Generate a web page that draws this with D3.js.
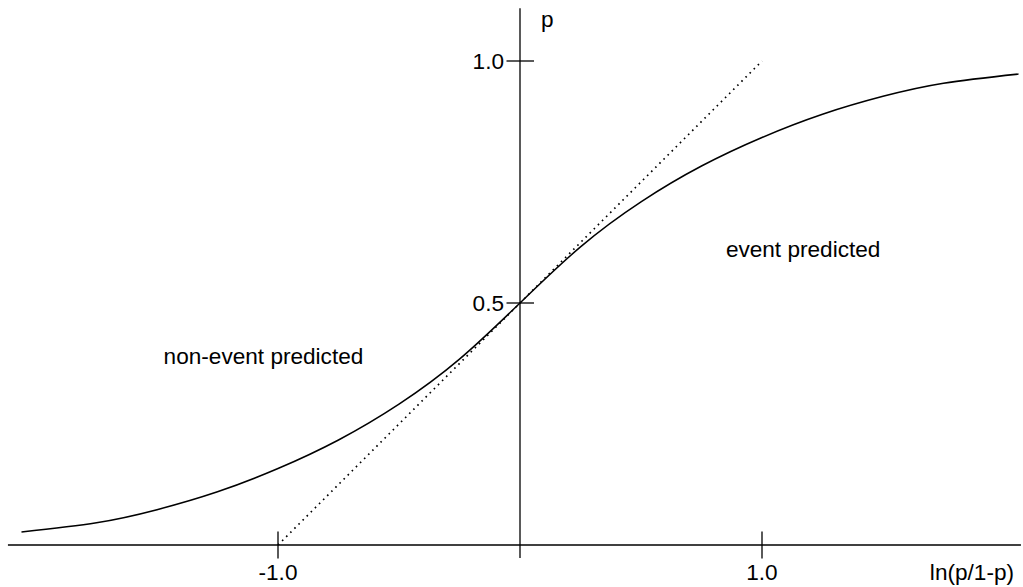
<!DOCTYPE html>
<html>
<head>
<meta charset="utf-8">
<script src="https://cdn.jsdelivr.net/npm/d3@7"></script>
<style>
  body { margin: 0; background: #fff; }
  svg text { font-family: "Liberation Sans", Arial, sans-serif; font-size: 22.6px; fill: #000; }
  .axis { stroke: #000; stroke-width: 1.3; }
  .curve { fill: none; stroke: #000; stroke-width: 1.5; }
  .tangent { fill: none; stroke: #000; stroke-width: 1.7; stroke-dasharray: 1.6,4.2; }
</style>
</head>
<body>
<div class="chart"></div>
<script>
const WIDTH = 1023;
const HEIGHT = 587;

// logit values and probabilities
var logitValues = [-2.06, -1.75, -1.5, -1.25, -1.0, -0.75, -0.5, -0.25, 0, 0.25, 0.5, 0.75, 1.0, 1.25, 1.5, 1.75, 2.06];
var probValues  = [0.027, 0.046, 0.073, 0.110, 0.158, 0.217, 0.291, 0.384, 0.5, 0.616, 0.709, 0.783, 0.842, 0.890, 0.927, 0.954, 0.973];

// dotted tangent at the middle
var tangentX = [-1.0, 1.0];
var tangentP = [0.0, 1.0];

var xTicks = [-1.0, 1.0];
var xTickLabels = ["-1.0", "1.0"];
var yTicks = [0.5, 1.0];
var yTickLabels = ["0.5", "1.0"];

// axis extents in data units
var xAxisRange = [-2.116, 2.07];
var yAxisRange = [-0.027, 1.109];

var xTitle = "ln(p/1-p)";
var yTitle = "p";

var regionLabels = [
  { text: "non-event predicted", x: -1.06, p: 0.374 },
  { text: "event predicted", x: 1.17, p: 0.595 }
];

var loadChart = function() {
  var svg = d3.select(".chart").append("svg")
    .attr("width", WIDTH)
    .attr("height", HEIGHT);

  var xScale = d3.scaleLinear().domain([-1, 1]).range([278, 762]);
  var yScale = d3.scaleLinear().domain([0, 1]).range([545, 61]);

  // axes
  svg.append("line").classed("axis", true)
    .attr("x1", xScale(xAxisRange[0])).attr("x2", xScale(xAxisRange[1]))
    .attr("y1", yScale(0)).attr("y2", yScale(0));
  svg.append("line").classed("axis", true)
    .attr("x1", xScale(0)).attr("x2", xScale(0))
    .attr("y1", yScale(yAxisRange[0])).attr("y2", yScale(yAxisRange[1]));

  // x ticks cross the axis
  svg.selectAll(".xtick").data(xTicks).enter()
    .append("line").classed("axis", true)
    .attr("x1", function(d) { return xScale(d); })
    .attr("x2", function(d) { return xScale(d); })
    .attr("y1", yScale(0) - 13.5)
    .attr("y2", yScale(0) + 13.5);
  svg.selectAll(".xlabel").data(xTicks).enter()
    .append("text")
    .attr("x", function(d) { return xScale(d); })
    .attr("y", yScale(0) + 35)
    .attr("text-anchor", "middle")
    .text(function(d, i) { return xTickLabels[i]; });

  // y ticks
  svg.selectAll(".ytick").data(yTicks).enter()
    .append("line").classed("axis", true)
    .attr("x1", xScale(0) - 13.5)
    .attr("x2", xScale(0) + 14)
    .attr("y1", function(d) { return yScale(d); })
    .attr("y2", function(d) { return yScale(d); });
  svg.selectAll(".ylabel").data(yTicks).enter()
    .append("text")
    .attr("x", xScale(0) - 16)
    .attr("y", function(d) { return yScale(d) + 7.5; })
    .attr("text-anchor", "end")
    .text(function(d, i) { return yTickLabels[i]; });

  // titles
  svg.append("text")
    .attr("x", 1014)
    .attr("y", yScale(0) + 35)
    .attr("text-anchor", "end")
    .text(xTitle);
  svg.append("text")
    .attr("x", xScale(0) + 21)
    .attr("y", 27)
    .text(yTitle);

  // tangent line
  var tangent = d3.line()
    .x(function(d) { return xScale(d); })
    .y(function(d, i) { return yScale(tangentP[i]); });
  svg.append("path").classed("tangent", true)
    .attr("d", tangent(tangentX));

  // logistic curve
  var line = d3.line()
    .curve(d3.curveNatural)
    .x(function(d) { return xScale(d); })
    .y(function(d, i) { return yScale(probValues[i]); });
  svg.append("path").classed("curve", true)
    .attr("d", line(logitValues));

  // region labels
  svg.selectAll(".region").data(regionLabels).enter()
    .append("text")
    .attr("x", function(d) { return xScale(d.x); })
    .attr("y", function(d) { return yScale(d.p); })
    .attr("text-anchor", "middle")
    .text(function(d) { return d.text; });
};

window.onload = loadChart;
</script>
</body>
</html>
